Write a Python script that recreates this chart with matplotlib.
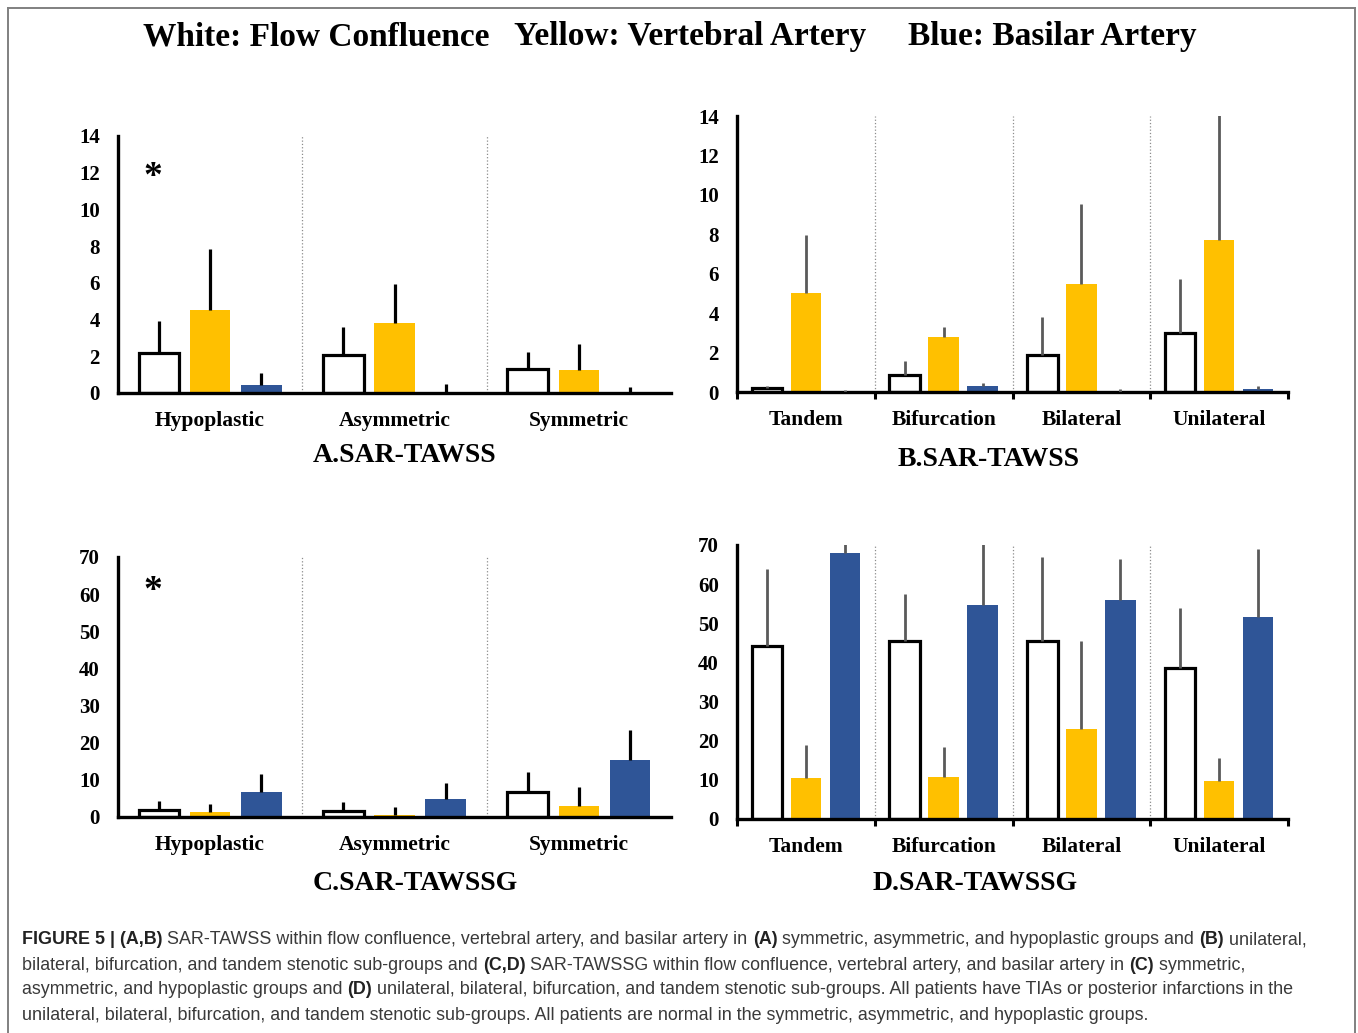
import numpy as np
import matplotlib
matplotlib.use("Agg")
import matplotlib.pyplot as plt
from matplotlib.lines import Line2D

# ---- data ----
cats_ac = ['Hypoplastic', 'Asymmetric', 'Symmetric']
cats_bd = ['Tandem', 'Bifurcation', 'Bilateral', 'Unilateral']

a_white = [2.2, 2.05, 1.3]
a_white_sd = [1.7, 1.55, 0.93]
a_yellow = [4.5, 3.8, 1.23]
a_yellow_sd = [3.34, 2.13, 1.46]
a_blue = [0.42, 0.0, 0.0]
a_blue_sd = [0.67, 0.5, 0.33]

b_white = [0.22, 0.88, 1.86, 3.0]
b_white_sd = [0.07, 0.71, 1.92, 2.73]
b_yellow = [5.03, 2.77, 5.47, 7.69]
b_yellow_sd = [2.93, 0.54, 4.06, 6.6]
b_blue = [0.0, 0.30, 0.0, 0.15]
b_blue_sd = [0.12, 0.16, 0.15, 0.14]

c_white = [1.98, 1.71, 6.84]
c_white_sd = [2.3, 2.34, 5.4]
c_yellow = [1.44, 0.63, 2.88]
c_yellow_sd = [1.96, 1.97, 5.1]
c_blue = [6.75, 4.77, 15.4]
c_blue_sd = [4.75, 4.4, 8.0]

d_white = [44.1, 45.5, 45.5, 38.7]
d_white_sd = [19.8, 12.1, 21.5, 15.1]
d_yellow = [10.4, 10.7, 22.9, 9.8]
d_yellow_sd = [8.4, 7.8, 22.5, 5.7]
d_blue = [67.9, 54.7, 55.9, 51.7]
d_blue_sd = [3.0, 16.0, 10.6, 17.2]

YELLOW = '#FFC000'
BLUE = '#2F5597'
W, H = 1358, 1033

plt.rcParams['font.family'] = ['Liberation Serif', 'DejaVu Serif']
fig = plt.figure(figsize=(W / 100, H / 100), dpi=100)
fig.patch.set_facecolor('white')


def px_axes(x0, x1, y_top, y_bot):
    return fig.add_axes([x0 / W, 1 - y_bot / H, (x1 - x0) / W, (y_bot - y_top) / H])


def panel(ax, cats, series, ymax, step, err_col, err_lw, ticks_out, off):
    n = len(cats)
    x = np.arange(n)
    width = 0.22
    (wv, ws), (yv, ys), (bv, bs) = series
    ax.bar(x - off, wv, width, color='white', edgecolor='black', linewidth=2.3, zorder=2)
    ax.bar(x, yv, width, color=YELLOW, zorder=2)
    ax.bar(x + off, bv, width, color=BLUE, zorder=2)
    for xs, v, s in [(x - off, wv, ws), (x, yv, ys), (x + off, bv, bs)]:
        ax.errorbar(xs, v, yerr=[np.zeros(n), s], fmt='none', ecolor=err_col,
                    elinewidth=err_lw, capsize=0, zorder=3)
    for b in np.arange(n - 1) + 0.5:
        ax.axvline(b, color='#8c8c8c', linestyle=':', linewidth=0.9, zorder=1)
    ax.set_xlim(-0.5, n - 0.5)
    ax.set_ylim(0, ymax)
    ax.set_yticks(np.arange(0, ymax + 0.1, step))
    ax.set_yticklabels([str(int(v)) for v in np.arange(0, ymax + 0.1, step)],
                       fontsize=15, fontweight='bold')
    ax.set_xticks(x)
    ax.set_xticklabels(cats, fontsize=15.5, fontweight='bold')
    ax.tick_params(axis='y', length=0, pad=13)
    ax.tick_params(axis='x', which='major', length=0, pad=13)
    if ticks_out:
        ax.set_xticks(np.arange(n + 1) - 0.5, minor=True)
        ax.tick_params(axis='x', which='minor', length=5, width=2.2, direction='out')
    for s in ['top', 'right']:
        ax.spines[s].set_visible(False)
    for s in ['left', 'bottom']:
        ax.spines[s].set_linewidth(2.4)
        ax.spines[s].set_capstyle('projecting')
    ax.set_facecolor('none')


axA = px_axes(118, 671, 136, 393)
panel(axA, cats_ac, [(a_white, a_white_sd), (a_yellow, a_yellow_sd), (a_blue, a_blue_sd)],
      14, 2, 'black', 2.3, False, 0.278)
axB = px_axes(737, 1288, 116, 392)
panel(axB, cats_bd, [(b_white, b_white_sd), (b_yellow, b_yellow_sd), (b_blue, b_blue_sd)],
      14, 2, '#5a5a5a', 2.0, True, 0.283)
axC = px_axes(118, 671, 557, 817)
panel(axC, cats_ac, [(c_white, c_white_sd), (c_yellow, c_yellow_sd), (c_blue, c_blue_sd)],
      70, 10, 'black', 2.3, False, 0.278)
axD = px_axes(737, 1288, 545, 819)
panel(axD, cats_bd, [(d_white, d_white_sd), (d_yellow, d_yellow_sd), (d_blue, d_blue_sd)],
      70, 10, '#5a5a5a', 2.0, True, 0.283)


def ftext(x, y, s, **kw):
    return fig.text(x / W, 1 - y / H, s, **kw)


# asterisks
ftext(152.5, 178, '*', fontsize=27, fontweight='bold', ha='center', va='center')
ftext(152.5, 591, '*', fontsize=27, fontweight='bold', ha='center', va='center')

# panel titles
ftext(405, 456, 'A.SAR-TAWSS', fontsize=20, fontweight='bold', ha='center', va='center')
ftext(989, 460, 'B.SAR-TAWSS', fontsize=20, fontweight='bold', ha='center', va='center')
ftext(415, 884, 'C.SAR-TAWSSG', fontsize=20, fontweight='bold', ha='center', va='center')
ftext(975, 883, 'D.SAR-TAWSSG', fontsize=20, fontweight='bold', ha='center', va='center')

# header
ftext(143, 37, 'White: Flow Confluence', fontsize=24, fontweight='bold', ha='left', va='center')
ftext(514, 37, 'Yellow: Vertebral Artery', fontsize=24, fontweight='bold', ha='left', va='center')
ftext(908, 37, 'Blue: Basilar Artery', fontsize=24, fontweight='bold', ha='left', va='center')

# frame (no bottom edge)
fc = '#808080'
fig.add_artist(Line2D([8 / W, 8 / W], [0, 1 - 8 / H], transform=fig.transFigure, color=fc, lw=1.4))
fig.add_artist(Line2D([8 / W, 1355 / W], [1 - 8 / H, 1 - 8 / H], transform=fig.transFigure, color=fc, lw=1.4))
fig.add_artist(Line2D([1355 / W, 1355 / W], [0, 1 - 8 / H], transform=fig.transFigure, color=fc, lw=1.4))

# caption
cap_lines = [
    [("FIGURE 5 | (A,B)", True), (" SAR-TAWSS within flow confluence, vertebral artery, and basilar artery in ", False),
     ("(A)", True), (" symmetric, asymmetric, and hypoplastic groups and ", False), ("(B)", True), (" unilateral,", False)],
    [("bilateral, bifurcation, and tandem stenotic sub-groups and ", False), ("(C,D)", True),
     (" SAR-TAWSSG within flow confluence, vertebral artery, and basilar artery in ", False), ("(C)", True),
     (" symmetric,", False)],
    [("asymmetric, and hypoplastic groups and ", False), ("(D)", True),
     (" unilateral, bilateral, bifurcation, and tandem stenotic sub-groups. All patients have TIAs or posterior infarctions in the", False)],
    [("unilateral, bilateral, bifurcation, and tandem stenotic sub-groups. All patients are normal in the symmetric, asymmetric, and hypoplastic groups.", False)],
]
cap_y = [940, 965, 990, 1015]
renderer = fig.canvas.get_renderer()
for parts, yy in zip(cap_lines, cap_y):
    xx = 22
    for txt, bold in parts:
        t = ftext(xx, yy, txt, fontsize=12.9, fontweight='bold' if bold else 'normal',
                  family=['Liberation Sans', 'DejaVu Sans'],
                  color='#222222' if bold else '#3a3a3a',
                  ha='left', va='center')
        xx += t.get_window_extent(renderer=renderer).width

fig.savefig('out.png', dpi=100, facecolor='white')
